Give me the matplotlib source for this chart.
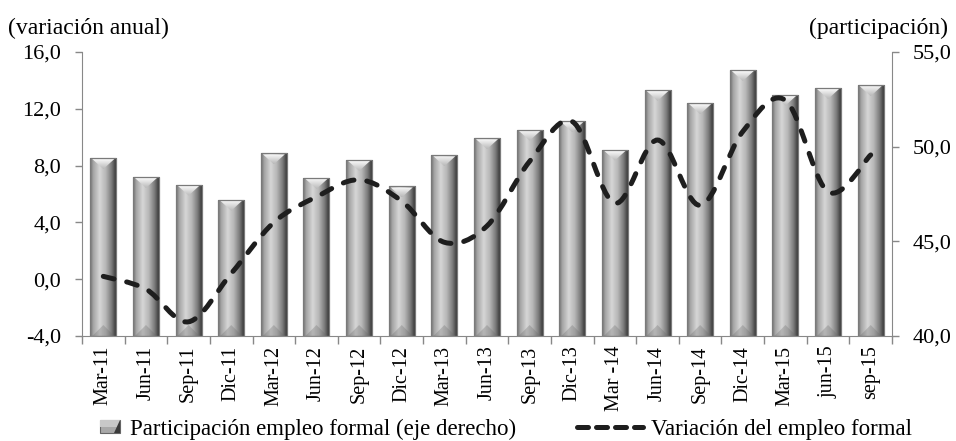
import numpy as np
import matplotlib
matplotlib.use("Agg")
import matplotlib.pyplot as plt
from matplotlib.path import Path
from matplotlib.patches import PathPatch, Polygon, Patch, Rectangle
from matplotlib.lines import Line2D
from matplotlib.colors import LinearSegmentedColormap
from matplotlib.legend_handler import HandlerPatch

plt.rcParams['font.family'] = ['Liberation Serif', 'DejaVu Serif']
SERIF = ['Liberation Serif', 'DejaVu Serif']

# ---------------- data ----------------
categories = ["Mar-11", "Jun-11", "Sep-11", "Dic-11", "Mar-12", "Jun-12", "Sep-12",
              "Dic-12", "Mar-13", "Jun-13", "Sep-13", "Dic-13", "Mar -14", "Jun-14",
              "Sep-14", "Dic-14", "Mar-15", "jun-15", "sep-15"]
participacion = [49.4, 48.4, 48.0, 47.2, 49.65, 48.35, 49.3, 47.9, 49.55, 50.45,
                 50.9, 51.35, 49.85, 53.0, 52.3, 54.05, 52.75, 53.1, 53.25]
variacion = [0.2, -0.7, -3.0, 0.4, 4.0, 5.8, 7.0, 5.5, 2.6, 3.75,
             8.3, 11.1, 5.35, 9.8, 5.2, 10.4, 12.6, 6.15, 8.75]
left_ticks = [-4, 0, 4, 8, 12, 16]
right_ticks = [40, 45, 50, 55]
label_left = "(variación anual)"
label_right = "(participación)"
legend_bar = "Participación empleo formal (eje derecho)"
legend_line = "Variación del empleo formal"

W, H = 956, 441
fig = plt.figure(figsize=(W / 100, H / 100), dpi=100)
ax_l, ax_b, ax_w, ax_h = 82 / W, 105 / H, 810 / W, 284 / H
ax = fig.add_axes([ax_l, ax_b, ax_w, ax_h])
ax2 = ax.twinx()
ax.set_zorder(ax2.get_zorder() + 1)
ax.patch.set_visible(False)

n = len(categories)
x = np.arange(n)
ylo2, yhi2 = right_ticks[0], right_ticks[-1]
xlo, xhi = -0.5, n - 0.5

# pixel -> data conversion for bevel decorations
px_y = (yhi2 - ylo2) / (ax_h * H)
px_x = (xhi - xlo) / (ax_w * W)

# ---------------- bars (right axis) ----------------
bars = ax2.bar(x, np.array(participacion) - ylo2, bottom=ylo2, width=0.61,
               facecolor='none', edgecolor='#7a7a7a', linewidth=0.9, zorder=4)

body_cmap = LinearSegmentedColormap.from_list('body', [
    (0.0, '#6e6e6e'), (0.12, '#a4a4a4'), (0.36, '#d6d6d6'), (0.58, '#b8b8b8'),
    (0.80, '#7c7c7c'), (0.92, '#4a4a4a'), (1.0, '#2c2c2c')])
top_cmap = LinearSegmentedColormap.from_list('top', ['#b8b8b8', '#ffffff'])
grad_h = np.linspace(0, 1, 256).reshape(1, -1)
grad_v = np.linspace(0, 1, 64).reshape(-1, 1)

for b in bars:
    x0, y0 = b.get_x(), b.get_y()
    x1, y1 = x0 + b.get_width(), y0 + b.get_height()
    im = ax2.imshow(grad_h, extent=[x0, x1, y0, y1], aspect='auto', cmap=body_cmap,
                    interpolation='bilinear', zorder=2, origin='lower')
    im.set_clip_path(b)
    xc = 0.5 * (x0 + x1)
    # top bevel (light triangle)
    tri = Polygon([[x0 + 2 * px_x, y1 - 1 * px_y], [x1 - 2 * px_x, y1 - 1 * px_y],
                   [xc, y1 - 11 * px_y]], closed=True, facecolor='none',
                  edgecolor='none', zorder=3)
    ax2.add_patch(tri)
    imt = ax2.imshow(grad_v, extent=[x0, x1, y1 - 11 * px_y, y1], aspect='auto',
                     cmap=top_cmap, interpolation='bilinear', zorder=3, origin='lower')
    imt.set_clip_path(tri)
    # bottom bevel (subtle darker triangle)
    btri = Polygon([[x0 + 2 * px_x, y0], [x1 - 2 * px_x, y0], [xc, y0 + 11 * px_y]],
                   closed=True, facecolor='#6a6a6a', edgecolor='none', alpha=0.3,
                   zorder=3)
    ax2.add_patch(btri)

ax2.set_ylim(ylo2, yhi2)
ax2.set_yticks(right_ticks)
ax2.set_yticklabels([f"{v:.1f}".replace('.', ',') for v in right_ticks])
ax2.tick_params(axis='y', direction='out', length=5, width=1, color='#888888',
                labelsize=16, pad=10)
for s in ['left', 'top', 'bottom']:
    ax2.spines[s].set_visible(False)
ax2.spines['right'].set_color('#888888')

# ---------------- smoothed dashed line (left axis) ----------------
P = np.column_stack([x, variacion]).astype(float)
verts = [P[0]]
codes = [Path.MOVETO]
for i in range(n - 1):
    p0 = P[i - 1] if i > 0 else P[i]
    p1, p2 = P[i], P[i + 1]
    p3 = P[i + 2] if i + 2 < n else P[i + 1]
    c1 = p1 + (p2 - p0) / 6.0
    c2 = p2 - (p3 - p1) / 6.0
    verts += [c1, c2, p2]
    codes += [Path.CURVE4] * 3
line = PathPatch(Path(verts, codes), fill=False, edgecolor='#1e1e1e', linewidth=3.6,
                 linestyle=(0, (2.2, 2.6)), capstyle='round', zorder=5)
ax.add_patch(line)

ax.set_xlim(xlo, xhi)
ax.set_ylim(left_ticks[0], left_ticks[-1])
ax2.set_xlim(xlo, xhi)
ax.set_yticks(left_ticks)
ax.set_yticklabels([f"{v:.1f}".replace('.', ',') for v in left_ticks])
ax.tick_params(axis='y', direction='out', length=5, width=1, color='#888888',
               labelsize=16, pad=10)
ax.set_xticks(x)
ax.set_xticklabels(categories, rotation=90, fontsize=14.5)
ax.set_xticks(np.arange(xlo, xhi + 0.01, 1), minor=True)
ax.tick_params(axis='x', which='major', length=0, pad=7)
ax.tick_params(axis='x', which='minor', length=6, width=1, color='#888888',
               direction='out')
for s in ['top', 'right']:
    ax.spines[s].set_visible(False)
ax.spines['left'].set_color('#888888')
ax.spines['bottom'].set_color('#888888')

# ---------------- captions ----------------
fig.text(8 / W, 1 - 28 / H, label_left, fontsize=17, ha='left', va='center',
         family=SERIF)
fig.text(948 / W, 1 - 28 / H, label_right, fontsize=17, ha='right', va='center',
         family=SERIF)


# ---------------- legends ----------------
class BarHandler(HandlerPatch):
    def create_artists(self, legend, orig_handle, xdescent, ydescent, width, height,
                       fontsize, trans):
        r = Rectangle((-xdescent, -ydescent), width, height, facecolor='#a8a8a8',
                      edgecolor='#666666', lw=0.8, transform=trans)
        hi = Rectangle((-xdescent, -ydescent + height * 0.45), width, height * 0.55,
                       facecolor='#c8c8c8', edgecolor='none', transform=trans)
        d = Polygon([[-xdescent + width * 0.72, -ydescent],
                     [-xdescent + width, -ydescent],
                     [-xdescent + width, -ydescent + height]], closed=True,
                    facecolor='#3a3a3a', edgecolor='none', transform=trans)
        return [r, hi, d]


bar_handle = Patch(facecolor='#a8a8a8')
line_handle = Line2D([], [], color='#1e1e1e', lw=3.6, linestyle=(0, (2.2, 1.6)),
                     dash_capstyle='round')
leg_prop = {'family': SERIF, 'size': 16.5}
leg1 = fig.legend([bar_handle], [legend_bar], loc='center left',
                  bbox_to_anchor=(100 / W, 12 / H), frameon=False, prop=leg_prop,
                  borderpad=0, borderaxespad=0, handlelength=0.87, handleheight=0.55,
                  handletextpad=0.43, handler_map={Patch: BarHandler()})
leg2 = fig.legend([line_handle], [legend_line], loc='center left',
                  bbox_to_anchor=(577 / W, 12 / H), frameon=False, prop=leg_prop,
                  borderpad=0, borderaxespad=0, handlelength=2.9, handletextpad=0.35)

fig.savefig('out.png', dpi=100)
